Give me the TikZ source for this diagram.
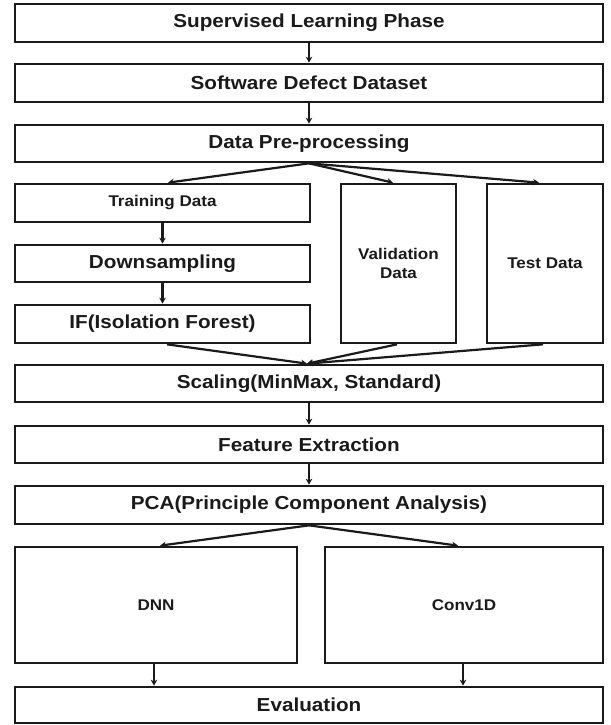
\documentclass[tikz,border=0pt]{standalone}
\usepackage{fontspec}
\setmainfont{Liberation Sans}[FakeStretch=1.1]
\usetikzlibrary{arrows.meta}
\definecolor{ink}{HTML}{1A1A1A}
\tikzset{
  box/.style={draw=ink, line width=2.7pt, fill=white, inner sep=0pt, align=center,
    text=ink, font=\fontsize{18.8}{22}\selectfont\bfseries},
  smallbox/.style={box, font=\fontsize{15.5}{18.5}\selectfont\bfseries},
  arr/.style={draw=ink, line width=2.2pt, -{Stealth[length=6pt,width=6.5pt]}},
}
\begin{document}
\begin{tikzpicture}[x=1pt,y=-1pt]
\useasboundingbox (0,0) rectangle (610,725);
% main column
\node[box, minimum width=588pt, minimum height=38pt] (b1) at (309,23) {Supervised Learning Phase};
\node[box, minimum width=588pt, minimum height=38pt] (b2) at (309,83) {Software Defect Dataset};
\node[box, minimum width=588pt, minimum height=37pt] (b3) at (309,143.5) {Data Pre-processing};
% split
\node[smallbox, minimum width=295pt, minimum height=38pt] (train) at (162.5,203) {Training Data};
\node[box, minimum width=295pt, minimum height=37pt] (down) at (162.5,263.5) {Downsampling};
\node[box, minimum width=295pt, minimum height=38pt] (iso) at (162.5,324) {IF(Isolation Forest)};
\node[smallbox, minimum width=115pt, minimum height=159pt] (val) at (398.5,263.5) {Validation\\Data};
\node[smallbox, minimum width=116pt, minimum height=159pt] (test) at (545,263.5) {Test Data};
% lower column
\node[box, minimum width=588pt, minimum height=37pt] (scale) at (309,383.5) {Scaling(MinMax, Standard)};
\node[box, minimum width=588pt, minimum height=37pt] (feat) at (309,444.5) {Feature Extraction};
\node[box, minimum width=588pt, minimum height=38pt] (pca) at (309,505) {PCA(Principle Component Analysis)};
\node[smallbox, minimum width=282pt, minimum height=116pt] (dnn) at (156,605) {DNN};
\node[smallbox, minimum width=278pt, minimum height=116pt] (cnn) at (464,605) {Conv1D};
\node[box, minimum width=588pt, minimum height=36pt] (eval) at (309,705) {Evaluation};
% connectors
\draw[arr] (b1.south) -- (b2.north);
\draw[arr] (b2.south) -- (b3.north);
\draw[arr] (b3.south) -- ([xshift=5.5pt]train.north);
\draw[arr] (b3.south) -- ([xshift=-5.5pt]val.north);
\draw[arr] (b3.south) -- ([xshift=-6pt]test.north);
\draw[arr] (train.south) -- (down.north);
\draw[arr] (down.south) -- (iso.north);
\draw[arr] ([xshift=4.5pt]iso.south) -- ([xshift=-2pt]scale.north);
\draw[arr] ([xshift=-1.5pt]val.south) -- ([xshift=-2pt]scale.north);
\draw[arr] ([xshift=-2pt]test.south) -- ([xshift=-2pt]scale.north);
\draw[arr] (scale.south) -- (feat.north);
\draw[arr] (feat.south) -- (pca.north);
\draw[arr] (pca.south) -- ([xshift=4pt]dnn.north);
\draw[arr] (pca.south) -- ([xshift=-6pt]cnn.north);
\draw[arr] ([xshift=-2pt]dnn.south) -- ([xshift=-2pt]dnn.south |- eval.north);
\draw[arr] ([xshift=-1pt]cnn.south) -- ([xshift=-1pt]cnn.south |- eval.north);
\end{tikzpicture}
\end{document}
